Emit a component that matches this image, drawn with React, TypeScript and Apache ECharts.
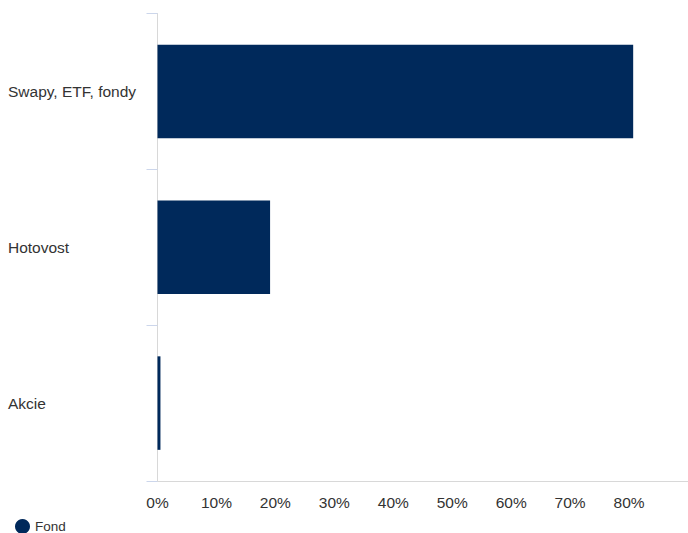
import React, { useEffect, useRef } from "react";
import * as echarts from "echarts";

const categories = ["Swapy, ETF, fondy", "Hotovost", "Akcie"];
const fondValues = [80.7, 19.1, 0.5];
const seriesName = "Fond";

export default function App() {
  const ref = useRef<HTMLDivElement>(null);
  useEffect(() => {
    if (!ref.current) return;
    const chart = echarts.init(ref.current, undefined, { renderer: "svg" });
    const font = "'Liberation Sans', Arial, sans-serif";
    chart.setOption({
      animation: false,
      legend: {
        left: 10,
        top: 514,
        icon: "circle",
        itemWidth: 15,
        itemHeight: 15,
        itemGap: 10,
        textStyle: { fontSize: 13.5, lineHeight: 15, color: "#333333", fontFamily: font },
        data: [seriesName],
      },
      grid: { left: 157.5, top: 13.5, right: 0, bottom: 52, containLabel: false },
      xAxis: {
        type: "value",
        min: 0,
        max: 90,
        interval: 10,
        axisLine: { show: true, lineStyle: { color: "#d8d8d8", width: 1 } },
        axisTick: { show: false },
        splitLine: { show: false },
        axisLabel: {
          formatter: "{value}%",
          showMaxLabel: false,
          margin: 13,
          fontSize: 15.5,
          color: "#333333",
          fontFamily: font,
        },
      },
      yAxis: {
        type: "category",
        inverse: true,
        data: categories,
        axisLine: { show: true, lineStyle: { color: "#d8d8d8", width: 1 } },
        axisTick: { show: true, length: 11, lineStyle: { color: "#ccd6eb" } },
        axisLabel: {
          margin: 149.5,
          align: "left",
          fontSize: 15.5,
          color: "#333333",
          fontFamily: font,
        },
      },
      series: [
        {
          name: seriesName,
          type: "bar",
          data: fondValues,
          barCategoryGap: "40%",
          itemStyle: { color: "#00295b" },
        },
      ],
    });
    return () => chart.dispose();
  }, []);
  return (
    <div
      ref={ref}
      style={{ position: "fixed", left: 0, top: 0, width: 688, height: 533, background: "#ffffff" }}
    />
  );
}
